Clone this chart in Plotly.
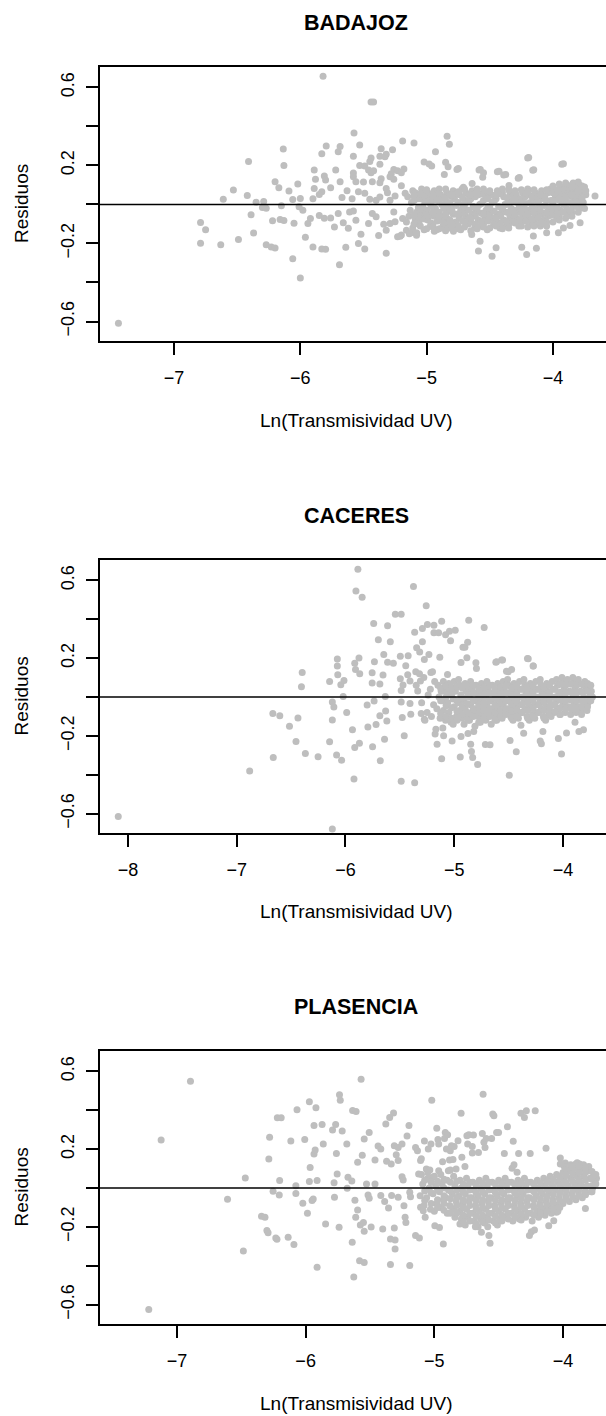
import plotly.graph_objects as go

# (Ln(Transmisividad UV), residuo) pairs
badajoz = [
    (-7.44, -0.609), (-5.82, 0.657), (-5.44, 0.525), (-5.42, 0.525), (-5.575, 0.367),
    (-4.838, 0.350), (-4.82, 0.309), (-5.19, 0.326), (-5.10, 0.315), (-5.53, 0.305),
    (-5.795, 0.30), (-5.83, 0.26), (-5.685, 0.297), (-5.70, 0.271), (-6.135, 0.285),
    (-6.13, 0.20), (-6.41, 0.22), (-4.93, 0.27), (-4.20, 0.238), (-3.93, 0.206),
    (-4.16, 0.175), (-4.76, 0.18), (-4.585, 0.177), (-4.55, 0.163), (-4.44, 0.168),
    (-4.39, 0.151), (-4.275, 0.134), (-4.85, 0.216), (-4.83, 0.194), (-5.02, 0.218),
    (-4.98, 0.207), (-4.96, 0.197), (-4.86, 0.154), (-5.27, 0.281), (-5.32, 0.257),
    (-5.36, 0.286), (-5.44, 0.238), (-5.45, 0.221), (-5.37, 0.247), (-5.33, 0.245),
    (-5.53, 0.20), (-5.49, 0.197), (-5.58, 0.247), (-5.58, 0.161), (-5.46, 0.177),
    (-5.44, 0.163), (-5.42, 0.173), (-5.37, 0.206), (-5.26, 0.18), (-5.23, 0.173),
    (-5.18, 0.182), (-5.20, 0.163), (-5.29, 0.142), (-5.28, 0.158), (-5.26, 0.13),
    (-5.36, 0.132), (-5.89, 0.177), (-5.72, 0.177), (-5.81, 0.146), (-5.88, 0.129),
    (-5.80, 0.125), (-5.76, 0.086), (-5.685, 0.117), (-5.56, 0.117), (-5.50, 0.115),
    (-5.43, 0.117), (-5.58, 0.142), (-5.37, 0.111), (-6.20, 0.117), (-6.17, 0.086),
    (-6.02, 0.105), (-6.09, 0.069), (-5.89, 0.082), (-5.83, 0.065), (-6.53, 0.074),
    (-6.42, 0.046), (-6.61, 0.027), (-6.35, 0.012), (-6.29, 0.015), (-6.30, -0.015),
    (-6.27, -0.019), (-6.15, -0.007), (-6.06, 0.026), (-6.00, 0.031), (-6.01, -0.012),
    (-5.98, -0.029), (-5.90, 0.029), (-5.85, 0.051), (-5.67, 0.036), (-5.63, 0.07),
    (-5.59, 0.029), (-5.54, 0.065), (-5.49, 0.057), (-5.45, 0.027), (-5.40, 0.022),
    (-5.37, 0.039), (-5.32, 0.082), (-5.31, 0.06), (-5.29, 0.022), (-5.25, 0.043),
    (-5.20, 0.096), (-5.17, 0.057), (-6.39, -0.053), (-6.37, -0.146), (-6.49, -0.18),
    (-6.63, -0.207), (-6.79, -0.093), (-6.75, -0.129), (-6.79, -0.199), (-6.27, -0.206),
    (-6.23, -0.218), (-6.20, -0.223), (-6.22, -0.084), (-6.16, -0.077), (-6.13, -0.082),
    (-6.05, -0.096), (-6.06, -0.278), (-6.00, -0.377), (-5.96, -0.168), (-5.94, -0.098),
    (-5.92, -0.072), (-5.90, -0.218), (-5.83, -0.228), (-5.80, -0.23), (-5.85, -0.057),
    (-5.81, -0.07), (-5.76, -0.069), (-5.73, -0.115), (-5.70, -0.046), (-5.69, -0.309),
    (-5.66, -0.094), (-5.64, -0.219), (-5.62, -0.122), (-5.61, -0.039), (-5.58, -0.034),
    (-5.56, -0.081), (-5.54, -0.20), (-5.52, -0.153), (-5.49, -0.228), (-5.46, -0.098),
    (-5.43, -0.046), (-5.40, -0.063), (-5.38, -0.159), (-5.34, -0.101), (-5.32, -0.25),
    (-5.32, -0.132), (-5.29, -0.098), (-5.26, -0.038), (-5.23, -0.166), (-5.21, -0.163),
    (-5.19, -0.072), (-5.25, -0.089), (-5.16, -0.132), (-5.11, -0.144), (-5.08, -0.158),
    (-5.06, -0.081),
    (-4.192, 0.241), (-4.152, 0.178), (-3.917, 0.209), (-4.575, 0.179), (-4.556, 0.140),
    (-4.427, 0.171), (-4.374, 0.154), (-4.266, 0.138), (-4.348, 0.097), (-4.64, 0.108),
    (-4.709, 0.089), (-4.749, 0.185), (-4.59, -0.239), (-4.482, -0.265), (-4.577, -0.188),
    (-4.45, -0.222), (-4.247, -0.219), (-4.208, -0.256), (-4.131, -0.225), (-4.155, -0.162),
    (-4.05, -0.145), (-3.957, -0.145), (-3.917, -0.12), (-3.865, -0.108), (-3.785, -0.094),
    (-3.667, 0.043), (-4.643, -0.154), (-4.788, -0.137), (-4.939, -0.137), (-4.85, -0.128),
    (-5.079, -0.145), (-5.137, -0.15), (-5.2, -0.157),
    (-5.15, 0.04), (-5.13, -0.03), (-5.16, -0.09), (-5.12, 0.01), (-5.14, -0.06), (-5.11, 0.07),
    (-5.09, 0.06), (-5.10, 0.02), (-5.08, -0.04), (-5.09, -0.08), (-5.11, -0.12), (-5.07, 0.03),
    (-5.04, 0.08), (-5.05, 0.03), (-5.03, -0.01), (-5.04, -0.05), (-5.06, -0.09), (-5.02, -0.13),
    (-5.03, 0.05), (-4.99, 0.06), (-4.98, 0.01), (-5.00, -0.03), (-4.99, -0.08), (-4.97, -0.11),
    (-5.00, 0.03), (-4.94, 0.07), (-4.95, 0.02), (-4.93, -0.02), (-4.94, -0.06), (-4.95, -0.10),
    (-4.92, -0.13), (-4.93, 0.04), (-4.89, 0.05), (-4.88, 0.00), (-4.90, -0.04), (-4.89, -0.08),
    (-4.87, -0.11), (-4.90, 0.08), (-4.84, 0.06), (-4.85, 0.02), (-4.83, -0.03), (-4.84, -0.07),
    (-4.85, -0.10), (-4.82, -0.12), (-4.83, 0.00), (-4.79, 0.07), (-4.78, 0.03), (-4.80, -0.01),
    (-4.79, -0.05), (-4.77, -0.09), (-4.80, -0.12), (-4.74, 0.05), (-4.75, 0.01), (-4.73, -0.03),
    (-4.74, -0.07), (-4.75, -0.11), (-4.72, 0.08), (-4.73, -0.13), (-4.69, 0.06), (-4.68, 0.02),
    (-4.70, -0.02), (-4.69, -0.06), (-4.67, -0.10), (-4.70, -0.04), (-4.64, 0.07), (-4.65, 0.03),
    (-4.63, -0.01), (-4.64, -0.05), (-4.65, -0.09), (-4.62, -0.12), (-4.59, 0.05), (-4.58, 0.00),
    (-4.60, -0.04), (-4.59, -0.08), (-4.57, -0.11), (-4.60, 0.08), (-4.54, 0.06), (-4.55, 0.02),
    (-4.53, -0.03), (-4.54, -0.07), (-4.55, -0.10), (-4.52, -0.13), (-4.53, 0.04), (-4.49, 0.05),
    (-4.48, 0.01), (-4.50, -0.03), (-4.49, -0.07), (-4.47, -0.10), (-4.50, -0.05), (-4.44, 0.07),
    (-4.45, 0.03), (-4.43, -0.01), (-4.44, -0.05), (-4.45, -0.09), (-4.42, -0.12), (-4.39, 0.04),
    (-4.38, 0.00), (-4.40, -0.04), (-4.39, -0.08), (-4.37, -0.11), (-4.40, 0.06), (-4.34, 0.06),
    (-4.35, 0.02), (-4.33, -0.02), (-4.34, -0.06), (-4.35, -0.10), (-4.32, -0.08), (-4.29, 0.05),
    (-4.28, 0.01), (-4.30, -0.03), (-4.29, -0.07), (-4.27, -0.11), (-4.30, 0.07), (-4.24, 0.06),
    (-4.25, 0.02), (-4.23, -0.02), (-4.24, -0.06), (-4.25, -0.09), (-4.22, 0.04), (-4.19, 0.05),
    (-4.18, 0.01), (-4.20, -0.03), (-4.19, -0.07), (-4.17, -0.10), (-4.20, 0.08), (-4.14, 0.06),
    (-4.15, 0.02), (-4.13, -0.02), (-4.14, -0.06), (-4.15, -0.09), (-4.12, 0.04), (-4.09, 0.07),
    (-4.08, 0.03), (-4.10, -0.01), (-4.09, -0.05), (-4.07, -0.08), (-4.10, -0.11), (-4.04, 0.06),
    (-4.05, 0.02), (-4.03, -0.02), (-4.04, -0.06), (-4.05, -0.09), (-4.02, 0.08), (-3.99, 0.08),
    (-3.98, 0.04), (-4.00, 0.00), (-3.99, -0.04), (-3.97, -0.07), (-4.00, 0.06), (-3.94, 0.09),
    (-3.95, 0.05), (-3.93, 0.01), (-3.94, -0.03), (-3.95, -0.06), (-3.92, 0.07), (-3.89, 0.10),
    (-3.88, 0.06), (-3.90, 0.02), (-3.89, -0.02), (-3.87, -0.05), (-3.90, 0.08), (-3.84, 0.11),
    (-3.85, 0.07), (-3.83, 0.03), (-3.84, -0.01), (-3.85, -0.04), (-3.82, 0.09), (-3.79, 0.10),
    (-3.78, 0.06), (-3.80, 0.02), (-3.79, -0.02), (-3.77, 0.08), (-3.80, 0.04), (-3.75, 0.09),
    (-3.74, 0.05), (-3.76, 0.01), (-3.75, -0.02), (-3.74, 0.07),
]

# extra residuals inside the dense band, grouped by x
badajoz_core = {
    -5.065: [0.045, -0.015, -0.065, -0.10], -5.015: [0.06, 0.015, -0.03, -0.075],
    -4.965: [0.045, -0.01, -0.055, -0.095], -4.915: [0.055, 0.02, -0.04, -0.085],
    -4.865: [0.035, -0.02, -0.06, -0.095], -4.815: [0.045, 0.01, -0.035, -0.08],
    -4.765: [0.06, -0.005, -0.05, -0.10], -4.715: [0.035, 0.0, -0.045, -0.085],
    -4.665: [0.05, 0.015, -0.03, -0.075], -4.615: [0.04, -0.02, -0.06, -0.10],
    -4.565: [0.055, 0.005, -0.045, -0.09], -4.515: [0.03, -0.01, -0.055, -0.085],
    -4.465: [0.045, 0.015, -0.035, -0.07], -4.415: [0.055, -0.015, -0.06, -0.095],
    -4.365: [0.035, 0.0, -0.04, -0.085], -4.315: [0.045, 0.015, -0.05, -0.09],
    -4.265: [0.03, -0.01, -0.04, -0.08], -4.215: [0.06, 0.005, -0.05, -0.085],
    -4.165: [0.04, -0.01, -0.04, -0.075], -4.115: [0.05, 0.01, -0.035, -0.07],
    -4.065: [0.045, -0.005, -0.045, -0.10], -4.015: [0.065, 0.02, -0.02, -0.055],
    -3.965: [0.07, 0.025, -0.015, -0.05], -3.915: [0.085, 0.04, 0.0, -0.04],
    -3.865: [0.09, 0.045, 0.01, -0.03], -3.815: [0.085, 0.05, 0.015, -0.01],
    -3.77: [0.095, 0.03, 0.0],
    -5.10: [0.045, -0.055, -0.10], -5.05: [0.055, -0.025, -0.11],
    -5.00: [0.075, -0.055, -0.125], -4.95: [0.045, -0.04, -0.115],
    -4.90: [0.025, -0.06, -0.125], -4.85: [0.08, -0.05, -0.135],
    -4.80: [0.05, -0.03, -0.105], -4.75: [0.065, -0.05, -0.125],
    -4.70: [0.08, 0.0, -0.115], -4.65: [0.05, -0.07, -0.135],
    -4.60: [0.065, -0.02, -0.125], -4.55: [0.08, -0.05, -0.115],
    -4.50: [0.07, -0.015, -0.12], -4.45: [0.05, -0.07, -0.11],
    -4.40: [0.08, -0.02, -0.125], -4.35: [0.075, -0.04, -0.12],
    -4.30: [0.03, -0.05, -0.095], -4.25: [0.075, -0.04, -0.11],
    -4.20: [0.065, -0.05, -0.115], -4.15: [0.075, -0.04, -0.11],
    -4.10: [0.05, -0.03, -0.095], -4.05: [0.075, -0.04, -0.11],
    -4.00: [0.095, 0.02, -0.09], -3.95: [0.105, 0.03, -0.08],
    -3.90: [0.11, 0.04, -0.07], -3.85: [0.10, 0.05, -0.06],
    -3.80: [0.115, 0.07, -0.04],
}

caceres = [
    (-8.089, -0.615), (-6.121, -0.679), (-6.881, -0.381), (-6.668, -0.085), (-6.604, -0.097),
    (-6.664, -0.311), (-6.515, -0.150), (-6.437, -0.108), (-6.455, -0.229), (-6.398, 0.126),
    (-6.405, 0.053), (-6.369, -0.291), (-6.252, -0.308), (-6.146, 0.080), (-6.146, -0.231),
    (-6.121, -0.026), (-6.107, -0.051), (-6.121, -0.118), (-6.075, 0.195), (-6.075, 0.159),
    (-6.071, 0.115), (-6.043, 0.063), (-6.014, 0.085), (-6.021, 0.003), (-6.082, -0.299),
    (-6.036, -0.325), (-5.989, -0.080), (-5.936, -0.168), (-5.922, -0.422), (-5.915, 0.173),
    (-5.908, 0.142), (-5.904, 0.545), (-5.915, -0.260), (-5.886, 0.658), (-5.876, 0.200),
    (-5.869, 0.120), (-5.872, -0.238), (-5.847, 0.513), (-5.801, -0.041), (-5.794, -0.154),
    (-5.755, 0.125), (-5.751, -0.256), (-5.755, 0.072), (-5.741, 0.378), (-5.734, 0.181),
    (-5.737, -0.021), (-5.719, -0.142), (-5.698, 0.294), (-5.684, 0.067), (-5.684, -0.096),
    (-5.680, -0.328), (-5.648, 0.219), (-5.655, 0.113), (-5.641, -0.217), (-5.634, 0.002),
    (-5.613, 0.366), (-5.613, 0.179), (-5.588, 0.284), (-5.631, -0.072), (-5.62, -0.123),
    (-5.560, 0.173), (-5.542, 0.426), (-5.488, 0.426), (-5.488, -0.434), (-5.496, 0.210),
    (-5.496, 0.094), (-5.488, 0.034), (-5.488, -0.026), (-5.471, 0.062), (-5.460, -0.200),
    (-5.478, -0.106), (-5.446, 0.161), (-5.424, 0.212), (-5.428, 0.115), (-5.407, 0.082),
    (-5.407, -0.034), (-5.400, -0.089), (-5.375, 0.568), (-5.364, -0.441), (-5.364, 0.333),
    (-5.354, 0.130), (-5.346, 0.253), (-5.336, 0.031), (-5.318, 0.231), (-5.311, 0.082),
    (-5.304, -0.085), (-5.293, 0.352), (-5.293, 0.284), (-5.275, 0.193), (-5.275, -0.115),
    (-5.258, 0.470), (-5.247, 0.373), (-5.233, 0.219), (-5.215, 0.126), (-5.187, 0.369),
    (-5.187, 0.330), (-5.176, -0.191), (-5.169, -0.166), (-5.158, -0.243), (-5.144, 0.330),
    (-5.133, 0.205), (-5.116, 0.390), (-5.116, -0.318), (-5.105, -0.159), (-5.098, -0.200),
    (-5.080, 0.320), (-5.062, 0.116), (-5.044, 0.338), (-5.034, 0.289), (-5.020, -0.226),
    (-4.991, 0.344), (-4.938, 0.178), (-4.945, -0.309), (-4.938, -0.203), (-4.920, 0.256),
    (-4.902, 0.256), (-4.877, 0.282), (-4.884, 0.202), (-4.874, -0.188), (-4.867, 0.395),
    (-4.849, -0.243), (-4.842, -0.280), (-4.831, -0.311), (-4.821, -0.178), (-4.796, 0.147),
    (-4.785, -0.347), (-4.725, 0.357), (-4.714, -0.244), (-4.671, -0.246), (-4.618, 0.179),
    (-4.565, 0.190), (-4.504, 0.130), (-4.494, -0.403), (-4.487, -0.224), (-4.430, -0.282),
    (-4.387, -0.145), (-4.362, -0.186), (-4.327, 0.198), (-4.273, 0.159), (-4.210, -0.226),
    (-4.199, -0.241), (-4.185, -0.178), (-4.043, -0.214), (-4.014, -0.294), (-3.968, -0.185),
    (-3.854, -0.178), (-3.812, -0.169), (-3.89, -0.13), (-3.83, -0.07),
    (-4.611, 0.181), (-4.556, 0.190), (-4.52, 0.133), (-4.473, 0.142), (-4.32, 0.197),
    (-4.275, 0.159), (-4.801, 0.176),
    (-5.35, 0.06), (-5.30, -0.03), (-5.28, 0.10), (-5.25, -0.08), (-5.22, 0.04), (-5.20, 0.13),
    (-5.19, -0.04), (-5.24, 0.01), (-5.32, 0.12), (-5.27, -0.12), (-5.18, 0.08), (-5.21, -0.10),
    (-5.15, 0.06), (-5.14, 0.00), (-5.16, -0.06), (-5.13, -0.11), (-5.12, 0.03), (-5.10, 0.08),
    (-5.09, 0.03), (-5.11, -0.02), (-5.10, -0.07), (-5.08, -0.12), (-5.09, 0.05), (-5.05, 0.07),
    (-5.04, 0.02), (-5.06, -0.03), (-5.05, -0.08), (-5.03, -0.13), (-5.04, 0.04), (-5.00, 0.08),
    (-4.99, 0.03), (-5.01, -0.01), (-5.00, -0.05), (-4.98, -0.10), (-5.01, -0.14), (-4.95, 0.06),
    (-4.94, 0.01), (-4.96, -0.03), (-4.95, -0.07), (-4.93, -0.11), (-4.96, 0.09), (-4.90, 0.07),
    (-4.89, 0.03), (-4.91, -0.02), (-4.90, -0.06), (-4.88, -0.10), (-4.91, -0.14), (-4.85, 0.08),
    (-4.84, 0.04), (-4.86, 0.00), (-4.85, -0.04), (-4.83, -0.08), (-4.86, -0.12), (-4.80, 0.06),
    (-4.79, 0.02), (-4.81, -0.02), (-4.80, -0.06), (-4.78, -0.10), (-4.81, -0.15), (-4.75, 0.07),
    (-4.74, 0.03), (-4.76, -0.01), (-4.75, -0.05), (-4.73, -0.09), (-4.76, -0.13), (-4.70, 0.08),
    (-4.69, 0.04), (-4.71, 0.00), (-4.70, -0.04), (-4.68, -0.08), (-4.71, -0.12), (-4.65, 0.06),
    (-4.64, 0.02), (-4.66, -0.02), (-4.65, -0.06), (-4.63, -0.10), (-4.66, -0.14), (-4.60, 0.07),
    (-4.59, 0.03), (-4.61, -0.01), (-4.60, -0.05), (-4.58, -0.09), (-4.61, -0.12), (-4.55, 0.08),
    (-4.54, 0.04), (-4.56, 0.00), (-4.55, -0.04), (-4.53, -0.08), (-4.56, -0.11), (-4.50, 0.06),
    (-4.49, 0.02), (-4.51, -0.02), (-4.50, -0.06), (-4.48, -0.10), (-4.51, 0.09), (-4.45, 0.07),
    (-4.44, 0.03), (-4.46, -0.01), (-4.45, -0.05), (-4.43, -0.09), (-4.46, -0.12), (-4.40, 0.08),
    (-4.39, 0.04), (-4.41, 0.00), (-4.40, -0.04), (-4.38, -0.08), (-4.41, -0.11), (-4.35, 0.06),
    (-4.34, 0.02), (-4.36, -0.02), (-4.35, -0.06), (-4.33, -0.10), (-4.36, 0.09), (-4.30, 0.07),
    (-4.29, 0.03), (-4.31, -0.01), (-4.30, -0.05), (-4.28, -0.09), (-4.31, -0.12), (-4.25, 0.08),
    (-4.24, 0.04), (-4.26, 0.00), (-4.25, -0.04), (-4.23, -0.08), (-4.26, -0.11), (-4.20, 0.06),
    (-4.19, 0.02), (-4.21, -0.02), (-4.20, -0.06), (-4.18, -0.10), (-4.21, 0.09), (-4.15, 0.07),
    (-4.14, 0.03), (-4.16, -0.01), (-4.15, -0.05), (-4.13, -0.09), (-4.16, -0.12), (-4.10, 0.08),
    (-4.09, 0.04), (-4.11, 0.00), (-4.10, -0.04), (-4.08, -0.08), (-4.11, -0.10), (-4.05, 0.06),
    (-4.04, 0.02), (-4.06, -0.02), (-4.05, -0.06), (-4.03, -0.09), (-4.06, 0.09), (-4.00, 0.08),
    (-3.99, 0.04), (-4.01, 0.00), (-4.00, -0.04), (-3.98, -0.08), (-4.01, 0.10), (-3.95, 0.07),
    (-3.94, 0.03), (-3.96, -0.01), (-3.95, -0.05), (-3.93, -0.09), (-3.96, 0.09), (-3.90, 0.08),
    (-3.89, 0.04), (-3.91, 0.00), (-3.90, -0.04), (-3.88, -0.08), (-3.91, 0.10), (-3.85, 0.07),
    (-3.84, 0.03), (-3.86, -0.01), (-3.85, -0.05), (-3.83, -0.09), (-3.86, 0.09), (-3.80, 0.08),
    (-3.79, 0.04), (-3.81, 0.00), (-3.80, -0.04), (-3.78, -0.07), (-3.81, 0.06), (-3.76, 0.05),
    (-3.75, 0.01), (-3.77, -0.03), (-3.74, 0.03), (-3.73, 0.00),
]

caceres_core = {
    -5.125: [0.045, -0.02, -0.085], -5.075: [0.055, 0.0, -0.045, -0.10],
    -5.025: [0.05, 0.01, -0.055, -0.11], -4.975: [0.05, -0.02, -0.075, -0.12],
    -4.925: [0.045, -0.005, -0.05, -0.09], -4.875: [0.055, 0.01, -0.035, -0.08, -0.12],
    -4.825: [0.06, 0.02, -0.02, -0.06, -0.10], -4.775: [0.04, 0.0, -0.04, -0.08, -0.13],
    -4.725: [0.05, 0.015, -0.03, -0.07, -0.11], -4.675: [0.06, 0.02, -0.02, -0.06, -0.10],
    -4.625: [0.04, 0.0, -0.04, -0.08, -0.12], -4.575: [0.05, 0.015, -0.03, -0.07, -0.10],
    -4.525: [0.06, 0.02, -0.02, -0.06, -0.09], -4.475: [0.045, 0.005, -0.035, -0.075, -0.11],
    -4.425: [0.055, 0.015, -0.025, -0.065, -0.10], -4.375: [0.04, 0.0, -0.04, -0.08],
    -4.325: [0.05, 0.01, -0.03, -0.07, -0.11], -4.275: [0.055, 0.02, -0.02, -0.06, -0.10],
    -4.225: [0.04, 0.0, -0.04, -0.08], -4.175: [0.05, 0.01, -0.03, -0.07, -0.11],
    -4.125: [0.06, 0.02, -0.02, -0.06, -0.09], -4.075: [0.04, 0.0, -0.04, -0.075],
    -4.025: [0.065, 0.025, -0.015, -0.055, -0.09], -3.975: [0.06, 0.02, -0.02, -0.06],
    -3.925: [0.065, 0.025, -0.015, -0.06], -3.875: [0.06, 0.02, -0.02, -0.06],
    -3.825: [0.065, 0.025, -0.02, -0.05], -3.775: [0.07, 0.03, -0.01, -0.05],
    -3.745: [0.06, -0.02],
}

plasencia = [
    (-7.219, -0.626), (-6.895, 0.549), (-7.123, 0.247), (-6.607, -0.058), (-6.469, 0.051),
    (-6.484, -0.324), (-6.343, -0.146), (-6.316, -0.151), (-6.301, -0.219), (-6.292, -0.231),
    (-6.280, 0.261), (-6.286, 0.149), (-6.253, -0.017), (-6.232, -0.257), (-6.223, -0.264),
    (-6.220, 0.362), (-6.190, 0.362), (-6.202, 0.038), (-6.205, -0.036), (-6.136, -0.254),
    (-6.115, 0.242), (-6.091, -0.291), (-6.076, 0.012), (-6.076, -0.029), (-6.067, 0.403),
    (-6.022, -0.079), (-6.007, 0.250), (-5.986, -0.130), (-5.971, 0.444), (-5.965, 0.106),
    (-5.971, 0.034), (-5.950, -0.065), (-5.941, -0.057), (-5.935, 0.321), (-5.935, 0.175),
    (-5.926, 0.195), (-5.920, 0.413), (-5.911, -0.408), (-5.911, 0.038), (-5.872, 0.327),
    (-5.863, 0.226), (-5.845, -0.185), (-5.791, 0.298), (-5.779, 0.027), (-5.776, -0.048),
    (-5.767, 0.327), (-5.761, 0.177), (-5.755, 0.072), (-5.740, -0.202), (-5.737, 0.480),
    (-5.731, 0.451), (-5.716, 0.293), (-5.680, 0.226), (-5.671, 0.055), (-5.677, -0.002),
    (-5.641, 0.036), (-5.638, -0.279), (-5.635, 0.399), (-5.626, -0.458), (-5.617, -0.063),
    (-5.608, 0.394), (-5.611, -0.151), (-5.596, 0.132), (-5.596, -0.113), (-5.581, -0.374),
    (-5.575, -0.190), (-5.569, 0.559), (-5.560, 0.168), (-5.551, -0.178), (-5.545, -0.384),
    (-5.545, -0.223), (-5.545, 0.252), (-5.527, 0.021), (-5.515, -0.036), (-5.506, 0.285),
    (-5.506, -0.053), (-5.491, -0.201), (-5.461, 0.144), (-5.461, 0.021), (-5.437, 0.216),
    (-5.416, 0.201), (-5.416, -0.039), (-5.401, -0.211), (-5.386, -0.069), (-5.377, 0.329),
    (-5.371, 0.137), (-5.356, -0.103), (-5.347, 0.363), (-5.341, -0.394), (-5.341, -0.262),
    (-5.335, 0.123), (-5.332, -0.039), (-5.317, 0.386), (-5.311, 0.218), (-5.311, -0.206),
    (-5.305, -0.268), (-5.305, -0.314), (-5.296, 0.171), (-5.281, 0.209), (-5.281, 0.141),
    (-5.281, -0.048), (-5.251, 0.226), (-5.251, 0.058), (-5.242, 0.041), (-5.236, -0.091),
    (-5.227, -0.151), (-5.221, -0.177), (-5.212, 0.267), (-5.197, 0.322), (-5.191, -0.399),
    (-5.191, -0.022), (-5.185, -0.045), (-5.146, 0.209), (-5.146, -0.245), (-5.131, 0.192),
    (-5.122, 0.072), (-5.116, -0.257), (-5.107, 0.141), (-5.107, -0.099), (-5.101, 0.151),
    (-5.086, -0.117), (-5.077, 0.242), (-5.071, -0.151), (-5.062, 0.098), (-5.047, 0.201),
    (-5.035, 0.093), (-5.026, 0.226), (-5.020, 0.451), (-5.011, 0.055), (-4.996, -0.194),
    (-4.981, 0.307), (-4.972, 0.250), (-4.966, 0.226), (-4.966, 0.089), (-4.960, -0.204),
    (-4.936, 0.135), (-4.930, -0.288), (-4.921, 0.255), (-4.915, 0.286), (-4.906, 0.201),
    (-4.897, 0.274), (-4.891, 0.089), (-4.882, 0.144), (-4.876, 0.192), (-4.876, 0.093),
    (-4.867, 0.218), (-4.855, 0.147), (-4.846, 0.214), (-4.831, 0.098), (-4.816, 0.243),
    (-4.801, -0.185), (-4.792, 0.384), (-4.786, 0.158), (-4.771, -0.151), (-4.762, 0.111),
    (-4.747, 0.269), (-4.741, 0.226), (-4.732, 0.274), (-4.705, 0.213), (-4.705, 0.180),
    (-4.696, 0.273), (-4.681, -0.199), (-4.657, 0.183), (-4.634, -0.228), (-4.627, 0.281),
    (-4.621, 0.483), (-4.615, 0.235), (-4.606, 0.209), (-4.597, 0.255), (-4.585, -0.199),
    (-4.576, -0.245), (-4.567, -0.285), (-4.555, 0.255), (-4.546, 0.381), (-4.537, 0.372),
    (-4.516, 0.286), (-4.501, 0.286), (-4.456, 0.178), (-4.432, 0.315), (-4.396, 0.101),
    (-4.387, 0.240), (-4.381, 0.120), (-4.357, 0.081), (-4.345, 0.178), (-4.327, 0.384),
    (-4.300, 0.363), (-4.285, 0.398), (-4.255, 0.178), (-4.216, 0.398), (-4.246, -0.225),
    (-4.261, -0.245), (-4.222, -0.216), (-4.132, 0.204), (-4.111, -0.194), (-4.072, -0.168),
    (-4.051, -0.125), (-4.021, 0.154), (-4.021, 0.123), (-3.982, 0.129), (-3.961, 0.089),
    (-3.901, 0.123), (-3.871, 0.123), (-3.826, -0.105), (-3.811, 0.089),
    (-5.10, 0.07), (-5.09, 0.02), (-5.11, -0.04), (-5.08, -0.09), (-5.05, 0.05), (-5.04, 0.00),
    (-5.06, -0.05), (-5.03, -0.11), (-5.05, 0.08), (-5.00, 0.06), (-4.99, 0.01), (-5.01, -0.03),
    (-4.98, -0.08), (-5.00, -0.12), (-4.95, 0.07), (-4.94, 0.02), (-4.96, -0.02), (-4.93, -0.06),
    (-4.95, -0.10), (-4.90, 0.04), (-4.89, -0.01), (-4.91, -0.05), (-4.88, -0.09), (-4.90, -0.13),
    (-4.85, 0.06), (-4.84, 0.01), (-4.86, -0.03), (-4.83, -0.07), (-4.85, -0.11), (-4.84, -0.15),
    (-4.80, 0.04), (-4.79, 0.00), (-4.81, -0.04), (-4.78, -0.08), (-4.80, -0.12), (-4.79, -0.16),
    (-4.75, 0.05), (-4.74, 0.01), (-4.76, -0.03), (-4.73, -0.07), (-4.75, -0.11), (-4.74, -0.15),
    (-4.76, -0.19), (-4.70, 0.03), (-4.69, -0.01), (-4.71, -0.05), (-4.68, -0.09), (-4.70, -0.13),
    (-4.69, -0.17), (-4.65, 0.04), (-4.64, 0.00), (-4.66, -0.04), (-4.63, -0.08), (-4.65, -0.12),
    (-4.64, -0.16), (-4.66, -0.20), (-4.60, 0.05), (-4.59, 0.01), (-4.61, -0.03), (-4.58, -0.07),
    (-4.60, -0.11), (-4.59, -0.15), (-4.61, -0.18), (-4.55, 0.03), (-4.54, -0.01), (-4.56, -0.05),
    (-4.53, -0.09), (-4.55, -0.13), (-4.54, -0.17), (-4.50, 0.04), (-4.49, 0.00), (-4.51, -0.04),
    (-4.48, -0.08), (-4.50, -0.12), (-4.49, -0.16), (-4.51, -0.19), (-4.45, 0.05), (-4.44, 0.01),
    (-4.46, -0.03), (-4.43, -0.07), (-4.45, -0.11), (-4.44, -0.15), (-4.40, 0.03), (-4.39, -0.01),
    (-4.41, -0.05), (-4.38, -0.09), (-4.40, -0.13), (-4.39, -0.17), (-4.35, 0.04), (-4.34, 0.00),
    (-4.36, -0.04), (-4.33, -0.08), (-4.35, -0.12), (-4.34, -0.16), (-4.30, 0.05), (-4.29, 0.01),
    (-4.31, -0.03), (-4.28, -0.07), (-4.30, -0.11), (-4.29, -0.15), (-4.25, 0.03), (-4.24, -0.01),
    (-4.26, -0.05), (-4.23, -0.09), (-4.25, -0.13), (-4.24, -0.17), (-4.20, 0.04), (-4.19, 0.00),
    (-4.21, -0.04), (-4.18, -0.08), (-4.20, -0.12), (-4.19, -0.15), (-4.15, 0.05), (-4.14, 0.01),
    (-4.16, -0.03), (-4.13, -0.07), (-4.15, -0.11), (-4.14, -0.14), (-4.10, 0.06), (-4.09, 0.02),
    (-4.11, -0.02), (-4.08, -0.06), (-4.10, -0.10), (-4.09, -0.13), (-4.05, 0.07), (-4.04, 0.03),
    (-4.06, -0.01), (-4.03, -0.05), (-4.05, -0.09), (-4.04, -0.12), (-4.00, 0.08), (-3.99, 0.04),
    (-4.01, 0.00), (-3.98, -0.04), (-4.00, -0.08), (-3.99, 0.11), (-3.95, 0.09), (-3.94, 0.05),
    (-3.96, 0.01), (-3.93, -0.03), (-3.95, -0.07), (-3.94, 0.12), (-3.90, 0.10), (-3.89, 0.06),
    (-3.91, 0.02), (-3.88, -0.02), (-3.90, -0.06), (-3.89, 0.13), (-3.85, 0.10), (-3.84, 0.06),
    (-3.86, 0.02), (-3.83, -0.02), (-3.85, -0.05), (-3.84, 0.12), (-3.80, 0.09), (-3.79, 0.05),
    (-3.81, 0.01), (-3.78, -0.02), (-3.80, 0.11), (-3.76, 0.07), (-3.75, 0.03), (-3.77, 0.00),
    (-3.74, 0.05),
]

plasencia_core = {
    -5.075: [0.04, -0.015, -0.065], -5.025: [0.03, -0.025, -0.08],
    -4.975: [0.035, -0.01, -0.06, -0.10], -4.925: [0.045, 0.0, -0.04, -0.08, -0.115],
    -4.875: [0.03, -0.015, -0.055, -0.095, -0.13], -4.825: [0.035, -0.01, -0.05, -0.09, -0.13],
    -4.775: [0.02, -0.02, -0.06, -0.10, -0.14, -0.175],
    -4.725: [0.03, -0.01, -0.05, -0.09, -0.13, -0.17],
    -4.675: [0.015, -0.025, -0.065, -0.105, -0.145, -0.185],
    -4.625: [0.025, -0.02, -0.06, -0.10, -0.14, -0.175],
    -4.575: [0.03, -0.01, -0.05, -0.09, -0.13, -0.165],
    -4.525: [0.02, -0.025, -0.065, -0.105, -0.145, -0.18],
    -4.475: [0.025, -0.02, -0.06, -0.10, -0.14, -0.17],
    -4.425: [0.03, -0.01, -0.05, -0.09, -0.13, -0.16],
    -4.375: [0.02, -0.025, -0.065, -0.105, -0.145],
    -4.325: [0.025, -0.015, -0.055, -0.095, -0.135, -0.165],
    -4.275: [0.03, -0.01, -0.05, -0.09, -0.13], -4.225: [0.02, -0.02, -0.06, -0.10, -0.14],
    -4.175: [0.025, -0.015, -0.055, -0.095, -0.13], -4.125: [0.035, -0.005, -0.045, -0.085, -0.12],
    -4.075: [0.045, 0.005, -0.035, -0.075, -0.11], -4.025: [0.055, 0.015, -0.025, -0.065, -0.10],
    -3.975: [0.095, 0.065, 0.025, -0.015, -0.055], -3.925: [0.11, 0.075, 0.035, -0.005, -0.045],
    -3.875: [0.115, 0.08, 0.04, 0.0, -0.04], -3.825: [0.105, 0.08, 0.04, 0.005, -0.035],
    -3.775: [0.085, 0.045, 0.01, -0.02], -3.745: [0.07, 0.02],
}

titles = ["BADAJOZ", "CACERES", "PLASENCIA"]
x_ticks = [[-7, -6, -5, -4], [-8, -7, -6, -5, -4], [-7, -6, -5, -4]]
x_ranges = [[-7.586, -3.58], [-8.257, -3.605], [-7.598, -3.666]]
y_ticks = [-0.6, -0.4, -0.2, 0, 0.2, 0.4, 0.6]
y_labels = ["\u22120.6", "", "\u22120.2", "", "0.2", "", "0.6"]
y_range = [-0.70, 0.705]

W, H = 606, 1416
FONT = "Liberation Sans, Arial, Helvetica, sans-serif"
# pixel rows of each plot box (top, bottom)
boxes = [(67, 341), (560, 833), (1051, 1324)]
left_px = 100

fig = go.Figure()
annotations = []
shapes = []

data = [(badajoz, badajoz_core), (caceres, caceres_core), (plasencia, plasencia_core)]
for i, (name, (pts, core)) in enumerate(zip(titles, data)):
    n = "" if i == 0 else str(i + 1)
    top, bot = boxes[i]
    xs = [p[0] for p in pts]
    ys = [p[1] for p in pts]
    for cx, cys in core.items():
        xs += [cx] * len(cys)
        ys += cys
    fig.add_trace(go.Scatter(x=xs, y=ys, mode="markers", xaxis="x" + n, yaxis="y" + n,
                             marker=dict(color="#BEBEBE", size=7, line=dict(width=0)),
                             hoverinfo="skip", showlegend=False))
    fig.layout["xaxis" + n] = dict(
        domain=[left_px / W, 1.0], anchor="y" + n, range=x_ranges[i],
        tickvals=x_ticks[i], ticks="outside", ticklen=12, tickwidth=1.5, tickcolor="black",
        showline=True, linecolor="black", linewidth=1.5, mirror=True,
        showgrid=False, zeroline=False, fixedrange=True, ticklabelstandoff=8,
        tickfont=dict(family=FONT, size=18, color="black"))
    fig.layout["yaxis" + n] = dict(
        domain=[1 - bot / H, 1 - top / H], anchor="x" + n, range=y_range,
        tickvals=y_ticks, ticktext=y_labels, tickangle=-90,
        ticks="outside", ticklen=12, tickwidth=1.5, tickcolor="black",
        showline=True, linecolor="black", linewidth=1.5, mirror=False,
        showgrid=False, zeroline=False, fixedrange=True, ticklabelstandoff=5,
        tickfont=dict(family=FONT, size=18, color="black"))
    shapes.append(dict(type="line", xref="x" + n + " domain", yref="y" + n,
                       x0=0, x1=1, y0=0, y1=0, line=dict(color="black", width=1.5)))
    common = dict(xref="paper", yref="paper", showarrow=False,
                  xanchor="center", yanchor="middle")
    annotations.append(dict(text="<b>" + name + "</b>", x=356 / W, y=1 - (top - 44) / H,
                            font=dict(family=FONT, size=21.5, color="black"), **common))
    annotations.append(dict(text="Ln(Transmisividad UV)", x=356 / W, y=1 - (bot + 79) / H,
                            font=dict(family=FONT, size=19, color="black"), **common))
    annotations.append(dict(text="Residuos", x=21 / W, y=1 - (top + bot) / 2 / H,
                            textangle=-90,
                            font=dict(family=FONT, size=19, color="black"), **common))

fig.update_layout(width=W, height=H, margin=dict(l=0, r=0, t=0, b=0),
                  paper_bgcolor="white", plot_bgcolor="white",
                  annotations=annotations, shapes=shapes)

fig.write_html("out.html", config={"displayModeBar": False},
               post_script="document.body.style.margin='0';")
